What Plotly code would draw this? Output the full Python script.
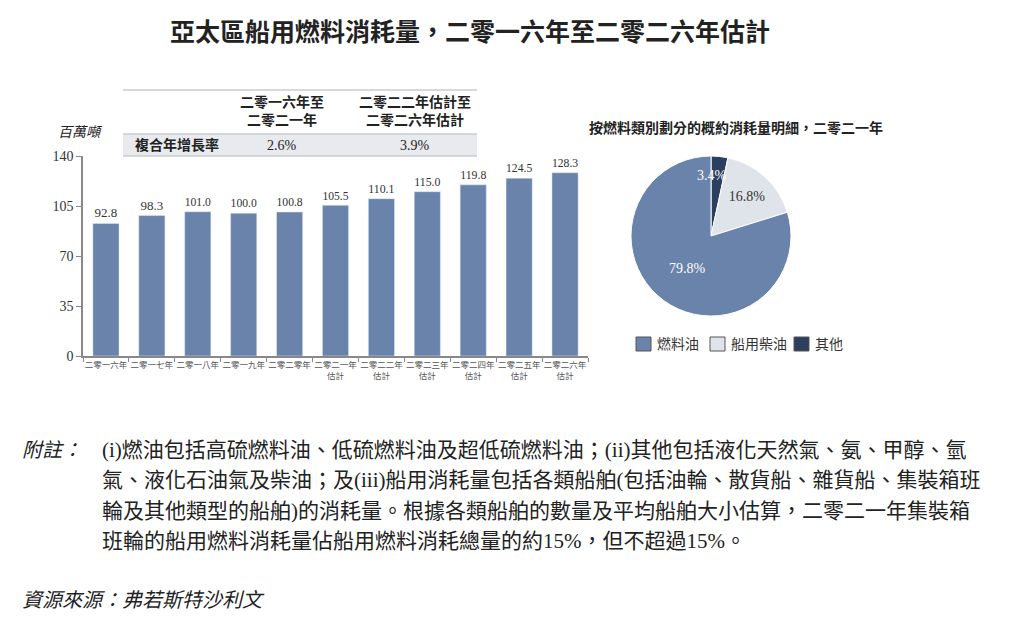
import math
import plotly.graph_objects as go

years = ["二零一六年", "二零一七年", "二零一八年", "二零一九年", "二零二零年",
         "二零二一年<br>估計", "二零二二年<br>估計", "二零二三年<br>估計", "二零二四年<br>估計",
         "二零二五年<br>估計", "二零二六年<br>估計"]
consumption = [92.8, 98.3, 101.0, 100.0, 100.8, 105.5, 110.1, 115.0, 119.8, 124.5, 128.3]
y_ticks = [0, 35, 70, 105, 140]

pie_labels = ["燃料油", "船用柴油", "其他"]
pie_values = [79.8, 16.8, 3.4]
pie_colors = ["#6983ab", "#dfe4ea", "#2c3f5f"]
pie_text_colors = ["white", "#333333", "white"]

cagr_headers = ["二零一六年至<br>二零二一年", "二零二二年估計至<br>二零二六年估計"]
cagr_values = ["2.6%", "3.9%"]

note_lines = [
    "(i)燃油包括高硫燃料油、低硫燃料油及超低硫燃料油；(ii)其他包括液化天然氣、氨、甲醇、氫",
    "氣、液化石油氣及柴油；及(iii)船用消耗量包括各類船舶(包括油輪、散貨船、雜貨船、集裝箱班",
    "輪及其他類型的船舶)的消耗量。根據各類船舶的數量及平均船舶大小估算，二零二一年集裝箱",
    "班輪的船用燃料消耗量佔船用燃料消耗總量的約15%，但不超過15%。",
]

FONT = "Liberation Serif, Noto Sans CJK TC"
OFF = 8  # page body margin
W, H = 1024 - 2 * OFF, 623 - 2 * OFF


def px(x):
    return (x - OFF) / W


def py(y):
    return 1 - (y - OFF) / H


# pie drawn clockwise from 12 o'clock in reverse legend order
order = [2, 1, 0]
PIE_CX, PIE_CY, PIE_R = 711, 236, 80

fig = go.Figure()
fig.add_trace(go.Bar(
    x=years, y=consumption, marker_color="#6983ab",
    text=[f"{v:.1f}" for v in consumption], textposition="outside",
    textfont=dict(size=13, color="#333333", family=FONT),
    cliponaxis=False, showlegend=False,
))
fig.add_trace(go.Pie(
    labels=[pie_labels[i] for i in order], values=[pie_values[i] for i in order],
    sort=False, direction="clockwise", rotation=0,
    marker=dict(colors=[pie_colors[i] for i in order], line=dict(color="white", width=1)),
    texttemplate="%{value:.1f}%", textposition=["none", "inside", "inside"],
    insidetextorientation="horizontal",
    insidetextfont=dict(size=14, family=FONT, color=[pie_text_colors[i] for i in order]),
    domain=dict(x=[px(PIE_CX - PIE_R), px(PIE_CX + PIE_R)],
                y=[py(PIE_CY + PIE_R), py(PIE_CY - PIE_R)]),
    showlegend=False, hoverinfo="label+value", automargin=False,
))

fig.update_layout(
    width=W, height=H, margin=dict(l=0, r=0, t=0, b=0, pad=0), autosize=False,
    paper_bgcolor="white", plot_bgcolor="white",
    font=dict(family=FONT, color="#333333"),
    bargap=0.43, showlegend=False,
    xaxis=dict(domain=[px(83), px(588)], showline=True, linecolor="#888888", linewidth=1.5,
               ticks="outside", tickson="boundaries", ticklen=4, tickcolor="#888888",
               tickfont=dict(size=8.5, color="#555555", family=FONT), tickangle=0,
               automargin=False),
    yaxis=dict(domain=[py(356), py(156)], range=[0, 140], tickvals=y_ticks,
               showline=True, linecolor="#888888", linewidth=1.5, ticks="outside",
               ticklen=5, tickcolor="#888888", showgrid=False, zeroline=False,
               tickfont=dict(size=14, color="#333333", family=FONT), automargin=False),
)

shapes = [
    dict(type="rect", xref="paper", yref="paper", x0=px(123), x1=px(477), y0=py(156), y1=py(134),
         fillcolor="#e8eaee", line=dict(width=0), layer="below"),
    dict(type="line", xref="paper", yref="paper", x0=px(123), x1=px(477), y0=py(90), y1=py(90),
         line=dict(color="#c8ccd2", width=1.5)),
    dict(type="line", xref="paper", yref="paper", x0=px(123), x1=px(477), y0=py(134), y1=py(134),
         line=dict(color="#c8ccd2", width=1.5)),
    dict(type="line", xref="paper", yref="paper", x0=px(123), x1=px(477), y0=py(156), y1=py(156),
         line=dict(color="#c8ccd2", width=1.5)),
]

ann = []


def add(text, x, y, size, xanchor="center", bold=False, italic=False, color="#222222"):
    if bold:
        text = f"<b>{text}</b>"
    if italic:
        text = f"<i>{text}</i>"
    ann.append(dict(text=text, x=px(x), y=py(y), xref="paper", yref="paper", showarrow=False,
                    xanchor=xanchor, yanchor="middle", align="center",
                    font=dict(size=size, color=color, family=FONT)))


add("亞太區船用燃料消耗量，二零一六年至二零二六年估計", 470, 33, 25, bold=True)
for hdr, xc in zip(cagr_headers, [282, 415]):
    add(hdr, xc, 111, 14, bold=True)
add("複合年增長率", 133, 145, 14, xanchor="left", bold=True)
for v, xc in zip(cagr_values, [282, 415]):
    add(v, xc, 145, 14)
add("百萬噸", 80, 132, 14, italic=True)
add("按燃料類別劃分的概約消耗量明細，二零二一年", 736, 128, 14, bold=True)

# label of the thin "其他" slice, placed near its mid-angle (overflows the slice as in the source)
small_frac = pie_values[2] / sum(pie_values) / 2
theta = 2 * math.pi * small_frac
lab_r = 61
add(f"{pie_values[2]:.1f}%", PIE_CX + lab_r * math.sin(theta) - 6,
    PIE_CY - lab_r * math.cos(theta), 14, color="white")

# pie legend
legend_x = [636, 710, 794]
for lab, col, lx in zip(pie_labels, pie_colors, legend_x):
    shapes.append(dict(type="rect", xref="paper", yref="paper",
                       x0=px(lx), x1=px(lx + 15), y0=py(351), y1=py(337),
                       fillcolor=col, line=dict(color="#555555", width=1)))
    add(lab, lx + 19, 344, 14, xanchor="left", color="#333333")

add("附註：", 20, 450, 20, xanchor="left", italic=True)
for i, line in enumerate(note_lines):
    add(line, 100, 450 + i * 30.3, 21, xanchor="left")
add("資源來源：弗若斯特沙利文", 20, 600, 20, xanchor="left", italic=True)

fig.update_layout(shapes=shapes, annotations=ann)

fig.write_html("out.html")
